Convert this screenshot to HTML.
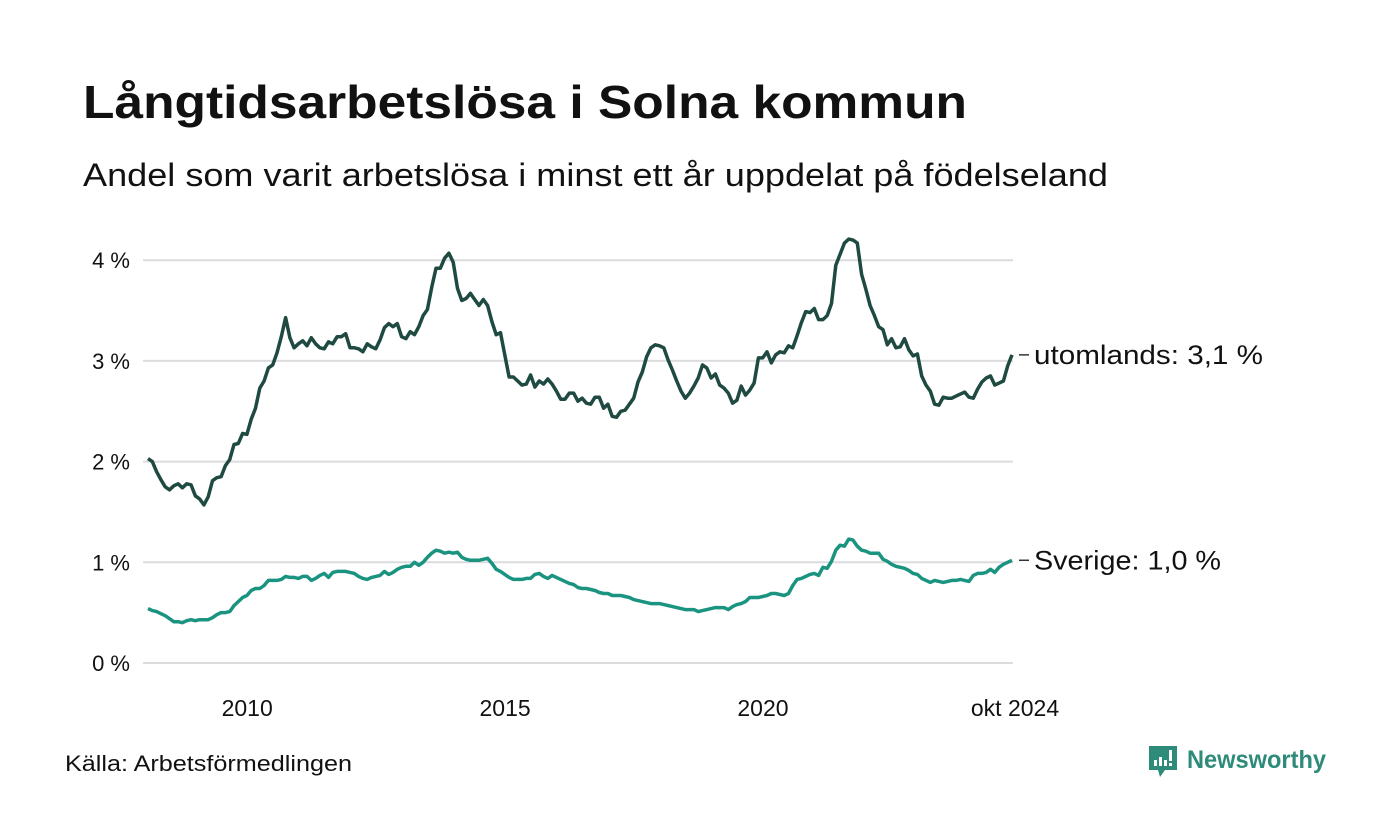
<!DOCTYPE html>
<html><head><meta charset="utf-8"><style>
body{margin:0;background:#fff;width:1400px;height:840px;overflow:hidden;font-family:"Liberation Sans",sans-serif;color:#111}
svg{position:absolute;left:0;top:0}
</style></head><body>
<svg width="1400" height="840">
<text x="83" y="118" font-size="46" font-weight="bold" fill="#111" textLength="884" lengthAdjust="spacingAndGlyphs">Långtidsarbetslösa i Solna kommun</text>
<text x="83" y="186" font-size="32" fill="#111" textLength="1025" lengthAdjust="spacingAndGlyphs">Andel som varit arbetslösa i minst ett år uppdelat på födelseland</text>
<g id="grid"></g><g id="yticks"></g><g id="xticks"></g><g id="lines"></g><g id="labels"></g>
<text x="65" y="771" font-size="22" fill="#111" textLength="287" lengthAdjust="spacingAndGlyphs">Källa: Arbetsförmedlingen</text>
<g>
<path d="M1149 746 h28 v24 h-12 l-5 7 l-2 -7 h-9 z" fill="#2e8b7a"/>
<rect x="1154" y="760" width="3" height="6" fill="#fff"/><rect x="1159" y="757" width="3" height="9" fill="#fff"/><rect x="1164" y="760" width="3" height="6" fill="#fff"/><rect x="1169" y="750" width="3" height="11" fill="#fff"/><rect x="1169" y="763" width="3" height="3" fill="#fff"/>
<text x="1187" y="768" font-size="25" font-weight="bold" fill="#2e8b7a" textLength="139" lengthAdjust="spacingAndGlyphs">Newsworthy</text>
</g>
</svg>
<script>
const yTicks=[0,1,2,3,4];
const yTickLabels=["0 %","1 %","2 %","3 %","4 %"];
const xTickMonths=[24,84,144,201];
const xTickLabels=["2010","2015","2020","okt 2024"];
const utomlands=[2.03,2.0,1.9,1.82,1.75,1.72,1.76,1.78,1.74,1.78,1.77,1.66,1.63,1.57,1.65,1.81,1.84,1.85,1.96,2.02,2.17,2.18,2.28,2.27,2.42,2.53,2.73,2.8,2.93,2.96,3.08,3.24,3.43,3.23,3.13,3.17,3.2,3.15,3.23,3.17,3.13,3.12,3.19,3.17,3.24,3.24,3.27,3.13,3.13,3.12,3.09,3.17,3.14,3.12,3.21,3.33,3.37,3.34,3.37,3.24,3.22,3.29,3.26,3.34,3.45,3.51,3.73,3.92,3.92,4.02,4.07,3.98,3.72,3.6,3.62,3.67,3.61,3.55,3.61,3.55,3.39,3.26,3.28,3.06,2.84,2.84,2.8,2.76,2.77,2.86,2.74,2.8,2.77,2.82,2.77,2.7,2.62,2.62,2.68,2.68,2.6,2.63,2.58,2.57,2.64,2.64,2.53,2.57,2.45,2.44,2.5,2.51,2.57,2.63,2.79,2.89,3.04,3.13,3.16,3.15,3.13,3.01,2.91,2.8,2.7,2.63,2.68,2.75,2.83,2.96,2.93,2.83,2.87,2.76,2.73,2.68,2.58,2.61,2.75,2.66,2.71,2.78,3.03,3.03,3.09,2.98,3.06,3.09,3.08,3.15,3.13,3.25,3.38,3.49,3.48,3.52,3.41,3.41,3.45,3.57,3.95,4.06,4.17,4.21,4.2,4.17,3.86,3.71,3.55,3.45,3.34,3.31,3.16,3.22,3.13,3.14,3.22,3.11,3.05,3.07,2.85,2.76,2.7,2.57,2.56,2.64,2.63,2.63,2.65,2.67,2.69,2.64,2.63,2.72,2.79,2.83,2.85,2.76,2.78,2.8,2.95,3.06];
const sverige=[.54,.52,.51,.49,.47,.44,.41,.41,.40,.42,.43,.42,.43,.43,.43,.45,.48,.50,.50,.51,.57,.61,.65,.67,.72,.74,.74,.77,.82,.82,.82,.83,.86,.85,.85,.84,.86,.86,.82,.84,.87,.89,.85,.90,.91,.91,.91,.90,.89,.86,.84,.83,.85,.86,.87,.91,.88,.90,.93,.95,.96,.96,1.00,.97,1.00,1.05,1.09,1.12,1.11,1.09,1.10,1.09,1.10,1.05,1.03,1.02,1.02,1.02,1.03,1.04,.99,.93,.91,.88,.85,.83,.83,.83,.84,.84,.88,.89,.86,.84,.87,.85,.83,.81,.79,.78,.75,.74,.74,.73,.72,.70,.69,.69,.67,.67,.67,.66,.65,.63,.62,.61,.60,.59,.59,.59,.58,.57,.56,.55,.54,.53,.53,.53,.51,.52,.53,.54,.55,.55,.55,.53,.56,.58,.59,.61,.65,.65,.65,.66,.67,.69,.69,.68,.67,.69,.77,.83,.84,.86,.88,.89,.87,.95,.94,1.01,1.12,1.17,1.16,1.23,1.22,1.16,1.12,1.11,1.09,1.09,1.09,1.03,1.01,.98,.96,.95,.94,.92,.89,.88,.84,.82,.80,.82,.81,.80,.81,.82,.82,.83,.82,.81,.87,.89,.89,.90,.93,.90,.95,.98,1.00,1.02];
const seriesNames=["utomlands","Sverige"];
const NS="http://www.w3.org/2000/svg";
const X0=148,X1=1012,MMAX=201,Y0=663,PPU=100.7;
function xs(m){return X0+(X1-X0)*m/MMAX;}
function ys(v){return Y0-v*PPU;}
function mk(tag,attrs,parent){const e=document.createElementNS(NS,tag);for(const k in attrs)e.setAttribute(k,attrs[k]);parent.appendChild(e);return e;}
const grid=document.getElementById('grid'),yt=document.getElementById('yticks'),xt=document.getElementById('xticks'),ln=document.getElementById('lines'),lb=document.getElementById('labels');
yTicks.forEach((v,i)=>{
 const l=mk('line',{x1:143,x2:1013,y1:ys(v),y2:ys(v),stroke:'#dcdcdf','stroke-width':2},grid);
 
 
 const t=mk('text',{x:130,y:ys(v)+8,'text-anchor':'end','font-size':22,fill:'#111'},yt);
 t.textContent=yTickLabels[i];
 
 
});
xTickMonths.forEach((m,i)=>{
 const t=mk('text',{x:xs(m)-(i==3?-3:4),y:716,'text-anchor':'middle','font-size':23,fill:'#111'},xt);
 t.textContent=xTickLabels[i];
 
 
});
function line(data,color,name){
 const d=data.map((v,i)=>(i?'L':'M')+xs(i).toFixed(1)+' '+ys(v).toFixed(1)).join('');
 const p=mk('path',{d:d,fill:'none',stroke:color,'stroke-width':3.5,'stroke-linejoin':'round'},ln);
 
 
}
line(utomlands,'#1f4a42','line-utomlands');
line(sverige,'#1a9480','line-sverige');
function endLabel(data,name,dn,len){
 const v=data[data.length-1],y=ys(v);
 mk('line',{x1:1019,x2:1029,y1:y,y2:y,stroke:'#333','stroke-width':1.5},lb);
 const t=mk('text',{x:1034,y:y+9,'font-size':27,fill:'#111',textLength:len,lengthAdjust:'spacingAndGlyphs'},lb);
 t.textContent=name+': '+(Math.round(v*10)/10).toFixed(1).replace('.',',')+' %';
 
 
}
endLabel(utomlands,seriesNames[0],'label-utomlands',229);
endLabel(sverige,seriesNames[1],'label-sverige',187);
</script>
</body></html>
